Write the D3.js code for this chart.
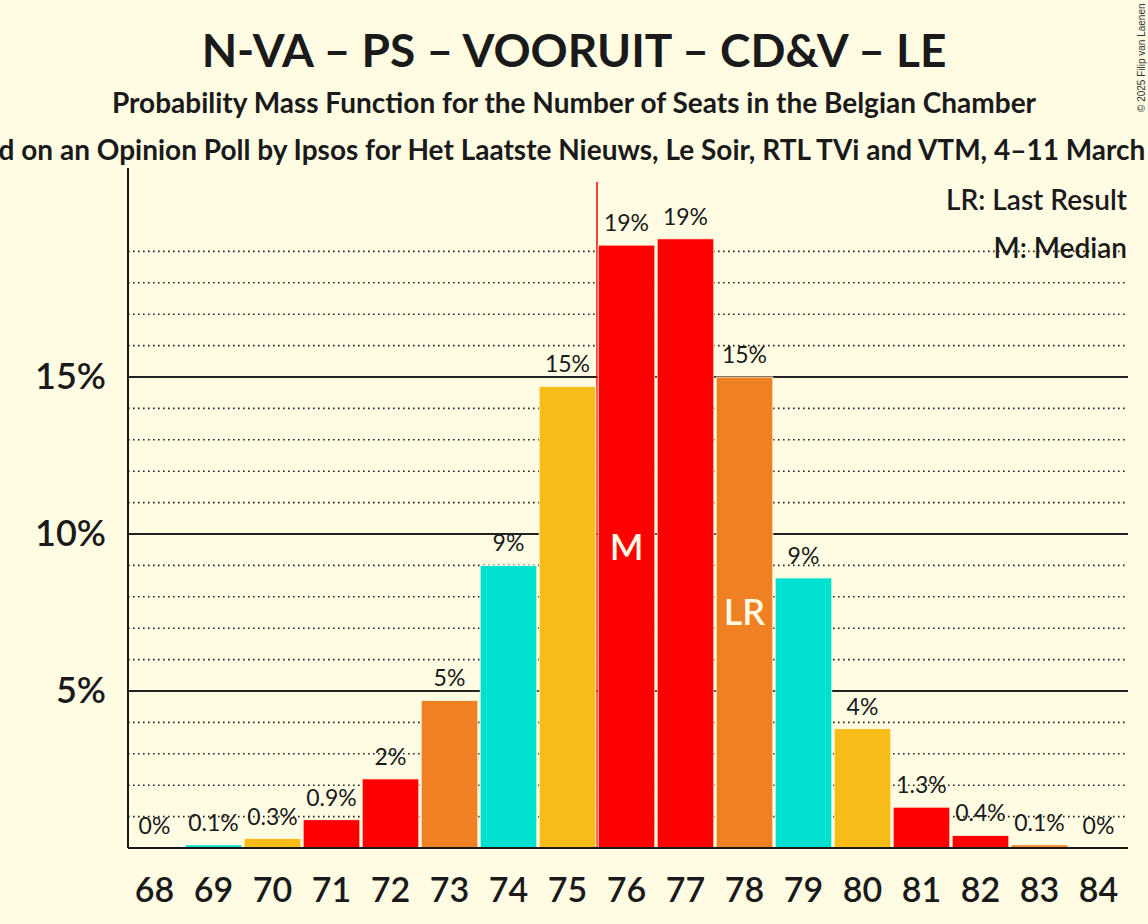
<!DOCTYPE html>
<html lang="en">
<head>
<meta charset="utf-8">
<style>
    body { margin: 0; background: #FFFCE3; }
    svg { display: block; font-family: Lato, "Open Sans", sans-serif; }
    .dotted { stroke: #222; stroke-width: 1.6; stroke-dasharray: 1.6,3.4; }
    .solid { stroke: #222; stroke-width: 1.8; }
</style>
<script src="https://cdn.jsdelivr.net/npm/d3@7"></script>
</head>
<body>
<svg id="chart" width="1148" height="924"></svg>
<script>
// seats and their probabilities (in %)
var seats = [68, 69, 70, 71, 72, 73, 74, 75, 76, 77, 78, 79, 80, 81, 82, 83, 84];
var probabilities = [0, 0.1, 0.3, 0.9, 2.2, 4.7, 9.0, 14.7, 19.2, 19.4, 15.0, 8.6, 3.8, 1.3, 0.4, 0.1, 0];
var valueLabels = ["0%", "0.1%", "0.3%", "0.9%", "2%", "5%", "9%", "15%", "19%", "19%", "15%", "9%", "4%", "1.3%", "0.4%", "0.1%", "0%"];
var yTicks = [5, 10, 15];
var gridTicks = d3.range(1, 20);
var medianSeat = 76;
var lastResultSeat = 78;
var partyColors = ["#F08024", "#00E0D0", "#F8BC18", "#FF0000", "#FF0000"];

var svg = d3.select("#chart");
var bg = "#FFFCE3";
var ink = "#1a1a1a";

svg.append("rect").attr("width", 1148).attr("height", 924).attr("fill", bg);

var x = d3.scaleBand().domain(seats).range([125, 1128]).paddingInner(0.04).paddingOuter(0.02);
var y = d3.scaleLinear().domain([0, 20]).range([848, 220]);
var left = 128, right = 1128;

// titles
svg.append("text").attr("x", 574).attr("y", 67).attr("text-anchor", "middle")
   .attr("font-size", 46).attr("font-weight", "bold").attr("fill", ink)
   .text("N-VA – PS – VOORUIT – CD&V – LE");
svg.append("text").attr("x", 574).attr("y", 113).attr("text-anchor", "middle")
   .attr("font-size", 28).attr("font-weight", "bold").attr("fill", ink)
   .text("Probability Mass Function for the Number of Seats in the Belgian Chamber");
svg.append("text").attr("x", 578).attr("y", 160).attr("text-anchor", "middle")
   .attr("font-size", 28).attr("font-weight", "bold").attr("fill", ink)
   .text("Based on an Opinion Poll by Ipsos for Het Laatste Nieuws, Le Soir, RTL TVi and VTM, 4–11 March 2025");

// copyright
svg.append("text").attr("transform", "translate(1145,112) rotate(-90)")
   .attr("font-size", 10).attr("font-family", "'Liberation Sans', Arial, sans-serif")
   .attr("fill", "#333").text("© 2025 Filip van Laenen");

// legend
svg.append("text").attr("x", 1127).attr("y", 210).attr("text-anchor", "end")
   .attr("font-size", 28).attr("font-weight", 600).attr("fill", ink).text("LR: Last Result");
svg.append("text").attr("x", 1127).attr("y", 258).attr("text-anchor", "end")
   .attr("font-size", 28).attr("font-weight", 600).attr("fill", ink).text("M: Median");

// value labels above bars
svg.selectAll(".vlabel")
   .data(seats)
   .enter().append("text")
   .attr("class", "vlabel")
   .attr("x", function(d) { return x(d) + x.bandwidth() / 2; })
   .attr("y", function(d, i) { return y(probabilities[i]) - 14; })
   .attr("text-anchor", "middle")
   .attr("font-size", 23)
   .attr("fill", ink)
   .text(function(d, i) { return valueLabels[i]; });

// grid lines
svg.selectAll(".grid")
   .data(gridTicks)
   .enter().append("line")
   .attr("class", function(d) { return yTicks.indexOf(d) >= 0 ? "solid" : "dotted"; })
   .attr("x1", left).attr("x2", right)
   .attr("y1", function(d) { return y(d); })
   .attr("y2", function(d) { return y(d); });

// median line
var medX = x(medianSeat) - x.step() * x.paddingInner() / 2;
svg.append("line")
   .attr("x1", medX).attr("x2", medX)
   .attr("y1", 182).attr("y2", y(0))
   .attr("stroke", "#FF0000").attr("stroke-width", 1.5);

// bars
svg.selectAll(".bar")
   .data(seats)
   .enter().append("rect")
   .attr("class", "bar")
   .attr("x", function(d) { return x(d); })
   .attr("y", function(d, i) { return y(probabilities[i]); })
   .attr("width", x.bandwidth())
   .attr("height", function(d, i) { return y(0) - y(probabilities[i]); })
   .attr("fill", function(d, i) { return partyColors[i % partyColors.length]; })
   .attr("stroke", bg).attr("stroke-width", 0.8);

// markers inside bars
function barMarker(seat, label) {
    var i = seats.indexOf(seat);
    svg.append("text")
       .attr("x", x(seat) + x.bandwidth() / 2)
       .attr("y", (y(probabilities[i]) + y(0)) / 2)
       .attr("dy", "0.36em")
       .attr("text-anchor", "middle")
       .attr("font-size", 36).attr("font-weight", 600)
       .attr("fill", bg)
       .text(label);
}
barMarker(medianSeat, "M");
barMarker(lastResultSeat, "LR");

// y axis
var yAxis = svg.append("g")
   .attr("transform", "translate(" + left + ",0)")
   .call(d3.axisLeft(y).tickValues(yTicks).tickSize(0).tickPadding(22)
         .tickFormat(function(d) { return d + "%"; }));
yAxis.select(".domain").remove();
yAxis.selectAll("text").attr("font-size", 36).attr("font-weight", 600)
     .attr("fill", ink).attr("font-family", "Lato, sans-serif");
svg.append("line").attr("x1", left).attr("x2", left).attr("y1", 168).attr("y2", y(0))
   .attr("stroke", ink).attr("stroke-width", 2);

// x axis
var xAxis = svg.append("g")
   .attr("transform", "translate(0," + y(0) + ")")
   .call(d3.axisBottom(x).tickSize(0).tickPadding(30));
xAxis.select(".domain").remove();
xAxis.selectAll("text").attr("font-size", 34).attr("font-weight", 600)
     .attr("fill", ink).attr("font-family", "Lato, sans-serif");
svg.append("line").attr("x1", left).attr("x2", right).attr("y1", y(0)).attr("y2", y(0))
   .attr("stroke", ink).attr("stroke-width", 2);
</script>
</body>
</html>
